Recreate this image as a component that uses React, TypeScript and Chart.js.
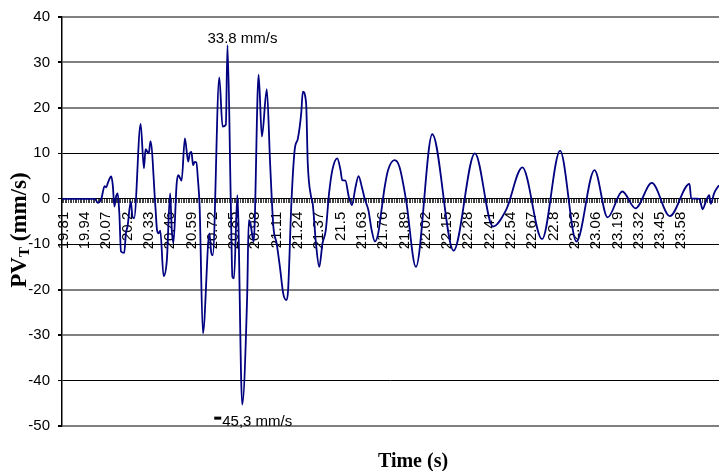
import React, { useEffect, useRef } from 'react';
import { Chart, registerables } from 'chart.js';

Chart.register(...registerables);

// Time (s)
const times = [
  19.80, 20.00, 20.02, 20.04, 20.06, 20.07, 20.08, 20.10, 20.11, 20.12,
  20.13, 20.14, 20.15, 20.16, 20.18, 20.19, 20.20, 20.22, 20.23, 20.24,
  20.28, 20.30, 20.31, 20.32, 20.33, 20.34, 20.37, 20.38, 20.39, 20.40,
  20.42, 20.44, 20.46, 20.47, 20.48, 20.50, 20.51, 20.53, 20.55, 20.57,
  20.58, 20.59, 20.60, 20.61, 20.62, 20.63, 20.64, 20.66, 20.70, 20.71,
  20.72, 20.76, 20.78, 20.80, 20.81, 20.83, 20.84, 20.85, 20.87, 20.90,
  20.93, 20.94, 20.95, 20.97, 21.00, 21.02, 21.05, 21.07, 21.09, 21.11,
  21.13, 21.15, 21.17, 21.18, 21.20, 21.22, 21.24, 21.26, 21.27, 21.29,
  21.30, 21.32, 21.33, 21.35, 21.37, 21.39, 21.41, 21.43, 21.45, 21.48,
  21.50, 21.51, 21.53, 21.55, 21.57, 21.59, 21.61, 21.63, 21.65, 21.67,
  21.69, 21.71, 21.73, 21.75, 21.77, 21.79, 21.83, 21.86, 21.90, 21.96,
  22.06, 22.19, 22.32, 22.43, 22.51, 22.61, 22.73, 22.84, 22.94, 23.05,
  23.13, 23.22, 23.30, 23.40, 23.51, 23.63, 23.64, 23.69, 23.71, 23.73,
  23.75, 23.76, 23.78, 23.81,
];

// PV_T (mm/s)
const pvt = [
  0, 0, -0.9, 0, 2.8, 2.5, 3.5, 4.9, 3.0, -1.7,
  0.5, 1.2, -3.2, -11.6, -11.9, -7.6, -6.1, -0.6, -3.9, -4.3,
  16.5, 6.7, 10.9, 10.4, 10.0, 12.7, -1.7, -6.9, -7.6, -7.0,
  -17.0, -13.5, 1.2, -6.9, -9.7, 3.4, 5.2, 4.0, 13.3, 8.2,
  10.0, 10.3, 7.4, 8.1, 8.0, 4.1, -1.7, -29.6, -7.6, -11.6,
  -12.4, 26.7, 15.9, 16.3, 33.8, -0.3, -17.2, -17.5, 0.8, -45.3,
  -21.6, -4.7, -5.4, -9.5, 27.3, 13.7, 24.1, 8.0, -6.1, -9.8,
  -15.0, -20.8, -22.3, -20.1, -1.0, 10.7, 13.3, 18.8, 23.6, 21.0,
  7.8, 0.5, -1.0, -9.8, -15.0, -9.8, -6.9, 1.2, 6.3, 8.9,
  6.3, 4.1, 4.0, 0.5, -1.4, 2.3, 5.0, 2.6, -0.3, -2.5,
  -6.9, -9.4, -7.6, -2.5, 2.7, 6.3, 8.5, 7.0, -0.3, -15.0,
  14.2, -11.4, 10.0, -6.1, -2.5, 6.9, -8.9, 10.6, -9.4, 6.3,
  -4.1, 1.6, -2.1, 3.5, -3.8, 3.3, 0.1, 0, -2.3, -0.6,
  0.8, -1.1, 1.2, 3.0,
];

const xTickLabels = [
  '19.81', '19.94', '20.07', '20.2', '20.33', '20.46', '20.59', '20.72', '20.85', '20.98',
  '21.11', '21.24', '21.37', '21.5', '21.63', '21.76', '21.89', '22.02', '22.15', '22.28',
  '22.41', '22.54', '22.67', '22.8', '22.93', '23.06', '23.19', '23.32', '23.45', '23.58',
];

const xMin = 19.80;
const xMax = 23.81;
const xStep = 0.01;
const yMin = -50;
const yMax = 40;
const yStep = 10;
const darkGridValues = [10, 0, -10, -40];

const peakLabel = '33.8 mm/s';
const troughLabel = '45,3 mm/s';
const xTitle = 'Time (s)';
const yTitleMain = 'PV';
const yTitleSub = 'T';
const yTitleRest = ' (mm/s)';

export default function App() {
  const ref = useRef<HTMLCanvasElement>(null);

  useEffect(() => {
    document.body.style.margin = '0';
    const canvas = ref.current;
    if (!canvas) return;

    let peakIdx = 0;
    let troughIdx = 0;
    pvt.forEach((v, i) => {
      if (v > pvt[peakIdx]) peakIdx = i;
      if (v < pvt[troughIdx]) troughIdx = i;
    });

    const textPlugin = {
      id: 'texts',
      afterDraw(chart: any) {
        const ctx = chart.ctx;
        const xs = chart.scales.x;
        const ys = chart.scales.y;
        ctx.save();
        ctx.fillStyle = '#000';

        // peak label
        const px = xs.getPixelForValue(times[peakIdx]);
        const py = ys.getPixelForValue(pvt[peakIdx]);
        ctx.font = '15px Arial, "Liberation Sans", sans-serif';
        ctx.textAlign = 'center';
        ctx.textBaseline = 'alphabetic';
        ctx.fillText(peakLabel, px + 15, py - 2);

        // trough label
        const tx = xs.getPixelForValue(times[troughIdx]);
        const ty = ys.getPixelForValue(pvt[troughIdx]);
        ctx.textAlign = 'left';
        ctx.fillText(troughLabel, tx - 20, ty + 21);
        ctx.fillRect(tx - 28, ty + 12, 7, 3);

        // x title
        const area = chart.chartArea;
        ctx.font = 'bold 20px "Times New Roman", "Liberation Serif", serif';
        ctx.textAlign = 'center';
        ctx.fillText(xTitle, 413, area.bottom + 41);

        // y title (rotated, with subscript)
        ctx.save();
        ctx.translate(26, 230);
        ctx.rotate(-Math.PI / 2);
        const bigFont = 'bold 23px "Times New Roman", "Liberation Serif", serif';
        const smallFont = 'bold 15px "Times New Roman", "Liberation Serif", serif';
        ctx.font = bigFont;
        const w1 = ctx.measureText(yTitleMain).width;
        const w3 = ctx.measureText(yTitleRest).width;
        ctx.font = smallFont;
        const w2 = ctx.measureText(yTitleSub).width;
        const start = -(w1 + w2 + w3) / 2;
        ctx.textAlign = 'left';
        ctx.font = bigFont;
        ctx.fillText(yTitleMain, start, 0);
        ctx.font = smallFont;
        ctx.fillText(yTitleSub, start + w1, 3);
        ctx.font = bigFont;
        ctx.fillText(yTitleRest, start + w1 + w2, 0);
        ctx.restore();

        ctx.restore();
      },
    };

    const chart = new Chart(canvas, {
      type: 'line',
      data: {
        datasets: [
          {
            data: times.map((t, i) => ({ x: t, y: pvt[i] })),
            borderColor: '#000080',
            borderWidth: 1.8,
            pointRadius: 0,
            fill: false,
            cubicInterpolationMode: 'monotone',
          },
        ],
      },
      options: {
        animation: false,
        responsive: false,
        maintainAspectRatio: false,
        layout: { padding: { top: 17, bottom: 45, left: 0, right: 0 } },
        plugins: { legend: { display: false }, tooltip: { enabled: false } },
        scales: {
          x: {
            type: 'linear',
            position: { y: 0 } as any,
            min: xMin,
            max: xMax,
            ticks: {
              stepSize: xStep,
              maxTicksLimit: 1000,
              autoSkip: false,
              maxRotation: 90,
              minRotation: 90,
              padding: 9,
              color: '#000',
              font: { family: 'Arial, "Liberation Sans", sans-serif', size: 15 },
              callback: (v: any) => {
                const s = String(Math.round(Number(v) * 100) / 100);
                return xTickLabels.includes(s) ? s : '';
              },
            },
            grid: {
              drawOnChartArea: false,
              drawTicks: true,
              tickLength: 4,
              color: '#444',
              lineWidth: 1,
            },
            border: { display: true, color: '#000', width: 1 },
            afterFit: (scale: any) => {
              scale.paddingLeft = 0;
              scale.paddingRight = 0;
            },
          } as any,
          y: {
            min: yMin,
            max: yMax,
            ticks: {
              stepSize: yStep,
              padding: 8,
              color: '#000',
              font: { family: 'Arial, "Liberation Sans", sans-serif', size: 15 },
            },
            grid: {
              color: (c: any) => (darkGridValues.includes(c.tick?.value) ? '#000' : '#808080'),
              lineWidth: (c: any) => (darkGridValues.includes(c.tick?.value) ? 1 : 2),
              tickColor: '#000',
              tickLength: 4,
            },
            border: { display: true, color: '#000', width: 1.5 },
            afterFit: (scale: any) => {
              scale.width = 62;
            },
          } as any,
        },
      },
      plugins: [textPlugin],
    } as any);

    return () => chart.destroy();
  }, []);

  return (
    <div style={{ width: 719, height: 471 }}>
      <canvas ref={ref} width={719} height={471} style={{ display: 'block' }} />
    </div>
  );
}
